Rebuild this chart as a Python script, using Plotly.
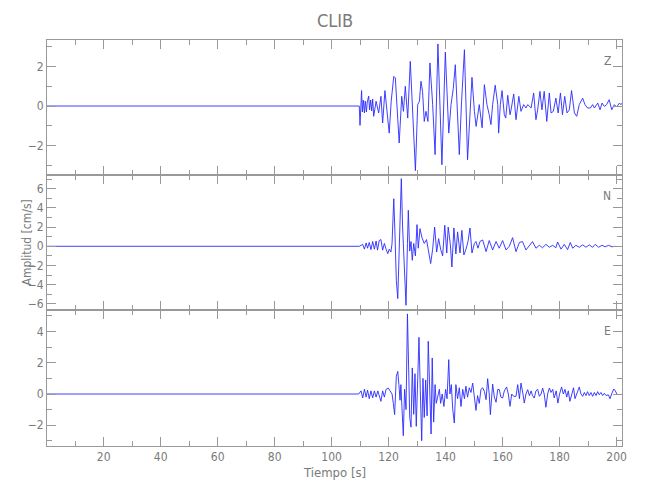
import plotly.graph_objects as go

# ---- data (time in s, amplitude in cm/s) ----
z_t = [0.1, 30, 60, 70, 90, 109.7, 109.95, 110.2, 110.5, 110.77, 111.1, 111.5, 111.8, 112.2, 112.5,
       113.0, 113.3, 113.7, 114.05, 114.4, 114.75, 115.6, 116.5, 117.3, 117.9, 118.7, 119.4, 120.2,
       120.9, 121.8, 122.35, 122.9, 123.7, 124.6, 125.2, 125.85, 126.7, 127.6, 128.4, 129.4, 130.2,
       130.8, 131.35, 131.9, 132.5, 133.1, 133.8, 134.5, 135.45, 136.3, 137.3, 138.0, 138.7, 139.9,
       140.7, 141.1, 141.9, 142.7, 143.4, 144.2, 144.8, 145.6, 146.6, 147.7, 148.55, 149.25, 150.1,
       150.7, 151.8, 152.8, 153.6, 154.5, 155.3, 155.9, 156.5, 157.4, 158.3, 158.6, 159.2, 159.8,
       160.6, 161.1, 161.8, 162.6, 162.9, 163.9, 164.7, 165.7, 166.45, 167.4, 168.2, 168.8, 170.0,
       170.9, 171.7, 172.3, 173.1, 173.8, 174.6, 175.5, 176.4, 177.0, 177.8, 178.7, 179.5, 180.3,
       181.0, 181.8, 182.6, 183.4, 184.2, 185.2, 186.0, 186.9, 188.1, 188.9, 189.8, 190.8, 191.6,
       192.2, 193.4, 194.2, 194.9, 195.7, 196.5, 197.4, 198.3, 199.2, 200.0, 201.0, 201.5, 202.0]
z_v = [0.0, 0.0, 0.0, 0.03, 0.0, 0.0, -0.98, 0.2, 0.78, -0.3, 0.3, -0.35, 0.25, -0.3, 0.2,
       0.5, -0.2, 0.3, -0.25, 0.35, -0.52, 0.24, -0.35, 0.49, -0.86, 0.78, -0.35, -1.37,
       0.24, 1.50, 1.42, -0.1, -1.87, 0.49, -0.27, 1.0, -0.61, 2.26, 0.07, -3.27, 0.07,
       0.24, 1.25, 0.74, -0.78, -0.27, -0.78, 2.18, 0.07, -2.46, 3.14, 0.07, -2.97, 2.73,
       0.07, -1.37, 0.07, 0.9, 2.09, -0.78, -2.46, 0.24, 2.85, -2.72, -0.27, 1.45, -0.27,
       -1.03, 0.07, -1.1, 1.08, 0.07, -0.44, -0.94, 0.07, 1.05, 0.07, -1.37, 0.07, 0.78,
       -0.44, -0.61, 0.54, -0.44, -0.24, 0.61, -0.69, 0.49, -0.27, 0.07, -0.1, 0.07, -0.1,
       0.66, -0.69, -0.19, 0.74, -0.19, 0.74, -0.78, 0.66, -0.35, -0.27, 0.40, -0.35, 0.66,
       -0.44, 0.49, -0.35, -0.19, 0.78, -0.35, -0.52, 0.07, 0.40, 0.07, -0.1, -0.1, 0.07,
       -0.1, 0.15, -0.19, 0.15, -0.02, 0.07, 0.32, -0.19, 0.07, -0.05, 0.15, 0.07, 0.15]

n_t = [0.1, 30, 60, 90, 109.7, 110.9, 111.5, 112.1, 112.6, 113.2, 113.8, 114.4, 115.0, 115.6,
       116.1, 116.7, 117.3, 117.9, 118.5, 119.1, 119.7, 120.2, 120.8, 121.2, 121.8, 122.2, 122.7,
       123.2, 123.75, 124.45, 124.9, 125.5, 126.1, 126.6, 126.9, 127.4, 127.85, 128.3, 128.8,
       129.4, 129.95, 130.4, 131.0, 131.7, 132.5, 133.3, 134.05, 134.75, 135.45, 136.15, 136.85,
       137.55, 138.25, 138.95, 139.7, 140.4, 140.9, 141.65, 142.2, 142.9, 143.6, 144.2, 145.05,
       145.7, 146.4, 147.15, 147.85, 148.55, 149.25, 150.1, 150.65, 151.35, 152.05, 153.0, 154.2,
       155.3, 156.5, 157.7, 158.8, 160.0, 161.2, 162.35, 163.5, 164.7, 165.9, 167.0, 168.2,
       169.4, 170.5, 171.7, 172.9, 174.0, 175.2, 176.4, 177.55, 178.7, 179.3, 180.5, 181.65,
       182.8, 183.75, 184.6, 185.7, 186.9, 188.1, 189.25, 190.4, 191.6, 192.5, 193.7, 194.9,
       196.0, 197.2, 198.4, 199.6]
n_v = [0.0, 0.0, 0.0, 0.0, 0.0, 0.2, -0.3, 0.35, -0.2, 0.4, -0.35, 0.5, -0.3, 0.55,
       -0.4, 0.6, 0.7, -0.4, 0.3, -0.3, -0.77, -0.3, -0.6, 0.3, 4.96, 1.5, -3.54,
       -5.45, 0.5, 7.05, 2.0, -2.0, -6.15, 0.3, 3.75, -0.5, 0.5, -1.46, 0.3,
       -1.0, 2.26, -0.2, 1.84, 0.9, 0.3, 0.7, -0.6, -1.8, -0.3, 2.01, -0.6,
       0.8, -0.3, -1.0, 2.19, -0.7, 2.0, 0.2, -2.16, 1.91, -0.8, 1.5, -0.7,
       1.66, -0.9, -0.3, 0.5, 1.91, -0.7, 0.3, 0.5, -0.2, 0.5, 0.66, -0.56,
       0.6, -0.38, 0.5, -0.2, 0.6, -0.38, 0.0, 0.9, -0.56, 0.4, 0.49, -0.38,
       0.1, 0.49, -0.2, 0.1, -0.15, 0.2, -0.1, 0.1, -0.15, 0.45, -0.3, 0.2,
       -0.35, 0.4, -0.2, 0.1, -0.1, 0.15, -0.1, 0.15, -0.1, 0.2, -0.1, 0.1,
       -0.05, 0.1, -0.05, 0.0]

e_t = [0.1, 30, 60, 90, 109.5, 110.3, 110.9, 111.5, 112.1, 112.6, 113.2, 113.8, 114.4, 115.0,
       115.6, 116.2, 116.7, 117.3, 117.9, 118.5, 119.1, 119.9, 120.5, 121.2, 121.65, 122.1, 122.7,
       123.2, 123.6, 124.0, 124.3, 124.8, 125.15, 125.6, 126.1, 126.6, 127.0, 127.4, 127.85,
       128.3, 128.8, 129.25, 129.7, 130.2, 130.65, 131.1, 131.6, 132.05, 132.5, 133.0, 133.5,
       133.9, 134.4, 134.9, 135.3, 135.8, 136.3, 136.7, 137.2, 137.8, 138.25, 138.8, 139.4,
       140.0, 140.5, 141.1, 141.5, 142.0, 142.5, 143.05, 143.6, 144.2, 144.8, 145.4, 146.0,
       146.6, 147.1, 147.7, 148.3, 148.9, 149.5, 150.1, 150.65, 151.2, 151.8, 152.4, 153.0,
       153.6, 154.2, 154.75, 155.3, 155.7, 156.2, 156.5, 157.1, 157.7, 158.3, 158.85, 159.4,
       160.0, 160.6, 161.4, 162.0, 162.6, 163.2, 163.9, 164.7, 165.3, 165.9, 166.45, 167.15,
       167.6, 168.2, 168.8, 169.4, 170.0, 170.5, 171.1, 171.7, 172.3, 172.9, 173.5, 174.05,
       174.6, 175.2, 175.8, 176.4, 177.0, 177.6, 178.1, 178.8, 179.4, 180.0, 180.7, 181.3,
       181.9, 182.5, 183.05, 183.6, 184.35, 184.9, 185.4, 186.1, 186.9, 187.5, 188.1, 188.7,
       189.25, 189.8, 190.4, 191.0, 191.6, 192.2, 192.8, 193.35, 193.9, 194.5, 195.1, 195.7,
       196.3, 197.1, 197.7, 198.25, 199.0, 199.55, 200.1]
e_v = [0.0, 0.0, 0.0, 0.0, 0.0, 0.2, -0.25, 0.3, -0.2, 0.25, -0.3, 0.2, -0.25, 0.2,
       -0.2, 0.2, -0.1, -0.47, 0.2, -0.2, 0.3, 0.38, 0.2, 0.0, -0.6, -1.32, 1.13,
       1.45, 0.6, -0.4, 0.6, -1.2, -2.67, 0.3, -1.0, 5.13, 0.5, -1.5, -2.12,
       1.67, -1.3, 1.3, -2.07, 0.5, 3.63, 0.3, -2.99, 1.0, -1.5, 0.9, -1.4,
       3.38, 0.2, -2.56, 2.31, -1.8, 0.6, -0.6, -0.2, 0.3, -0.6, 0.0, -0.8,
       0.3, -0.3, 2.2, 0.0, 0.6, -1.0, -1.86, 0.6, -0.3, 0.4, -0.8, 0.3,
       -0.3, 0.5, -0.2, 0.4, 0.1, 0.7, -0.3, -1.05, -0.1, -0.6, 0.3, 0.4,
       0.17, -0.36, 0.98, 0.0, -1.32, 0.0, 0.64, -0.2, -0.53, 0.3, 0.28, -0.2,
       -0.26, 0.2, 0.45, 0.0, -0.79, 0.0, -0.15, -0.15, 0.6, -0.3, 0.7, 0.0,
       -0.58, 0.0, 0.28, -0.1, 0.2, -0.1, -0.26, 0.2, 0.3, -0.15, 0.0, 0.38,
       0.0, -0.85, 0.0, 0.38, 0.1, 0.3, -0.25, 0.2, -0.58, 0.0, 0.45, 0.0,
       0.3, -0.2, 0.2, -0.47, 0.0, 0.4, -0.3, 0.0, 0.45, 0.0, -0.15, 0.1,
       -0.1, 0.15, -0.1, 0.1, -0.15, 0.1, -0.1, 0.15, -0.05, 0.1, -0.1, 0.05,
       -0.1, -0.05, -0.3, 0.0, 0.32, 0.2, 0.0]

components = ["Z", "N", "E"]
y_ranges = [[-3.49, 3.34], [-6.64, 7.43], [-3.33, 5.38]]
title_text = "CLIB"
x_title = "Tiempo [s]"
y_title = "Amplitud [cm/s]"
x_range = [0.1, 201.9]

# ---- figure ----
FONT = "Liberation Sans Narrow, DejaVu Sans Condensed, Roboto, sans-serif"
AX = "#999999"
TXT = "#7a7a7a"
LINE = "#2a2aff"

# the page body has an 8px margin; margins are compensated so that the
# plot area lands at pixels x 47..622, y 40..446 of the window
OFF = 8
bounds = [40, 175, 310, 446]
top, bottom = bounds[0], bounds[-1]
H = bottom - top

fig = go.Figure()
series = [(z_t, z_v), (n_t, n_v), (e_t, e_v)]
for i, (t, v) in enumerate(series):
    ax = "" if i == 0 else str(i + 1)
    fig.add_trace(go.Scatter(x=t, y=v, mode="lines",
                             line=dict(color=LINE, width=0.9),
                             xaxis="x" + ax, yaxis="y" + ax,
                             showlegend=False, hoverinfo="skip"))

layout = dict(
    width=650, height=500,
    paper_bgcolor="white", plot_bgcolor="white",
    margin=dict(l=47 - OFF, r=650 + OFF - 622, t=40 - OFF, b=500 + OFF - 446),
    font=dict(family=FONT, color=TXT, size=12),
    showlegend=False,
)
for i in range(3):
    ax = "" if i == 0 else str(i + 1)
    layout["xaxis" + ax] = dict(
        domain=[0, 1], anchor="y" + ax, range=x_range,
        showline=True, linecolor=AX, linewidth=1, mirror="ticks",
        ticks="inside", ticklen=9, tickcolor=AX, tickwidth=1,
        tick0=0, dtick=20, showgrid=False, zeroline=False,
        showticklabels=(i == 2),
        minor=dict(ticks="inside", ticklen=5, dtick=10, tick0=0, tickcolor=AX, showgrid=False),
        tickfont=dict(family=FONT, size=12, color=TXT),
    )
    layout["yaxis" + ax] = dict(
        domain=[(bottom - bounds[i + 1]) / H, (bottom - bounds[i]) / H],
        anchor="x" + ax, range=y_ranges[i],
        showline=True, linecolor=AX, linewidth=1, mirror="ticks",
        ticks="inside", ticklen=9, tickcolor=AX, tickwidth=1,
        tick0=0, dtick=2, showgrid=False, zeroline=False,
        minor=dict(ticks="inside", ticklen=5, dtick=1, tick0=0, tickcolor=AX, showgrid=False),
        tickfont=dict(family=FONT, size=12, color=TXT),
    )
fig.update_layout(**layout)

annotations = [
    dict(text=title_text, xref="paper", yref="paper", x=0.5, y=1, yshift=20,
         xanchor="center", yanchor="middle",
         showarrow=False, font=dict(family=FONT, size=18, color=TXT)),
    dict(text=x_title, xref="paper", yref="paper", x=0.5, y=0, yshift=-26,
         xanchor="center", yanchor="middle",
         showarrow=False, font=dict(family=FONT, size=13, color=TXT)),
    dict(text=y_title, xref="paper", yref="paper", x=0, xshift=-21,
         y=(bottom - (bounds[1] + bounds[2]) / 2) / H, textangle=-90,
         xanchor="center", yanchor="middle",
         showarrow=False, font=dict(family=FONT, size=12, color=TXT)),
]
for i, c in enumerate(components):
    ax = "" if i == 0 else str(i + 1)
    annotations.append(dict(text=c, xref="x" + ax + " domain", yref="y" + ax + " domain",
                            x=0.974, y=0.845, xanchor="center", yanchor="middle",
                            showarrow=False,
                            font=dict(family=FONT, size=12, color=TXT)))
fig.update_layout(annotations=annotations)

fig.write_html("out.html")
